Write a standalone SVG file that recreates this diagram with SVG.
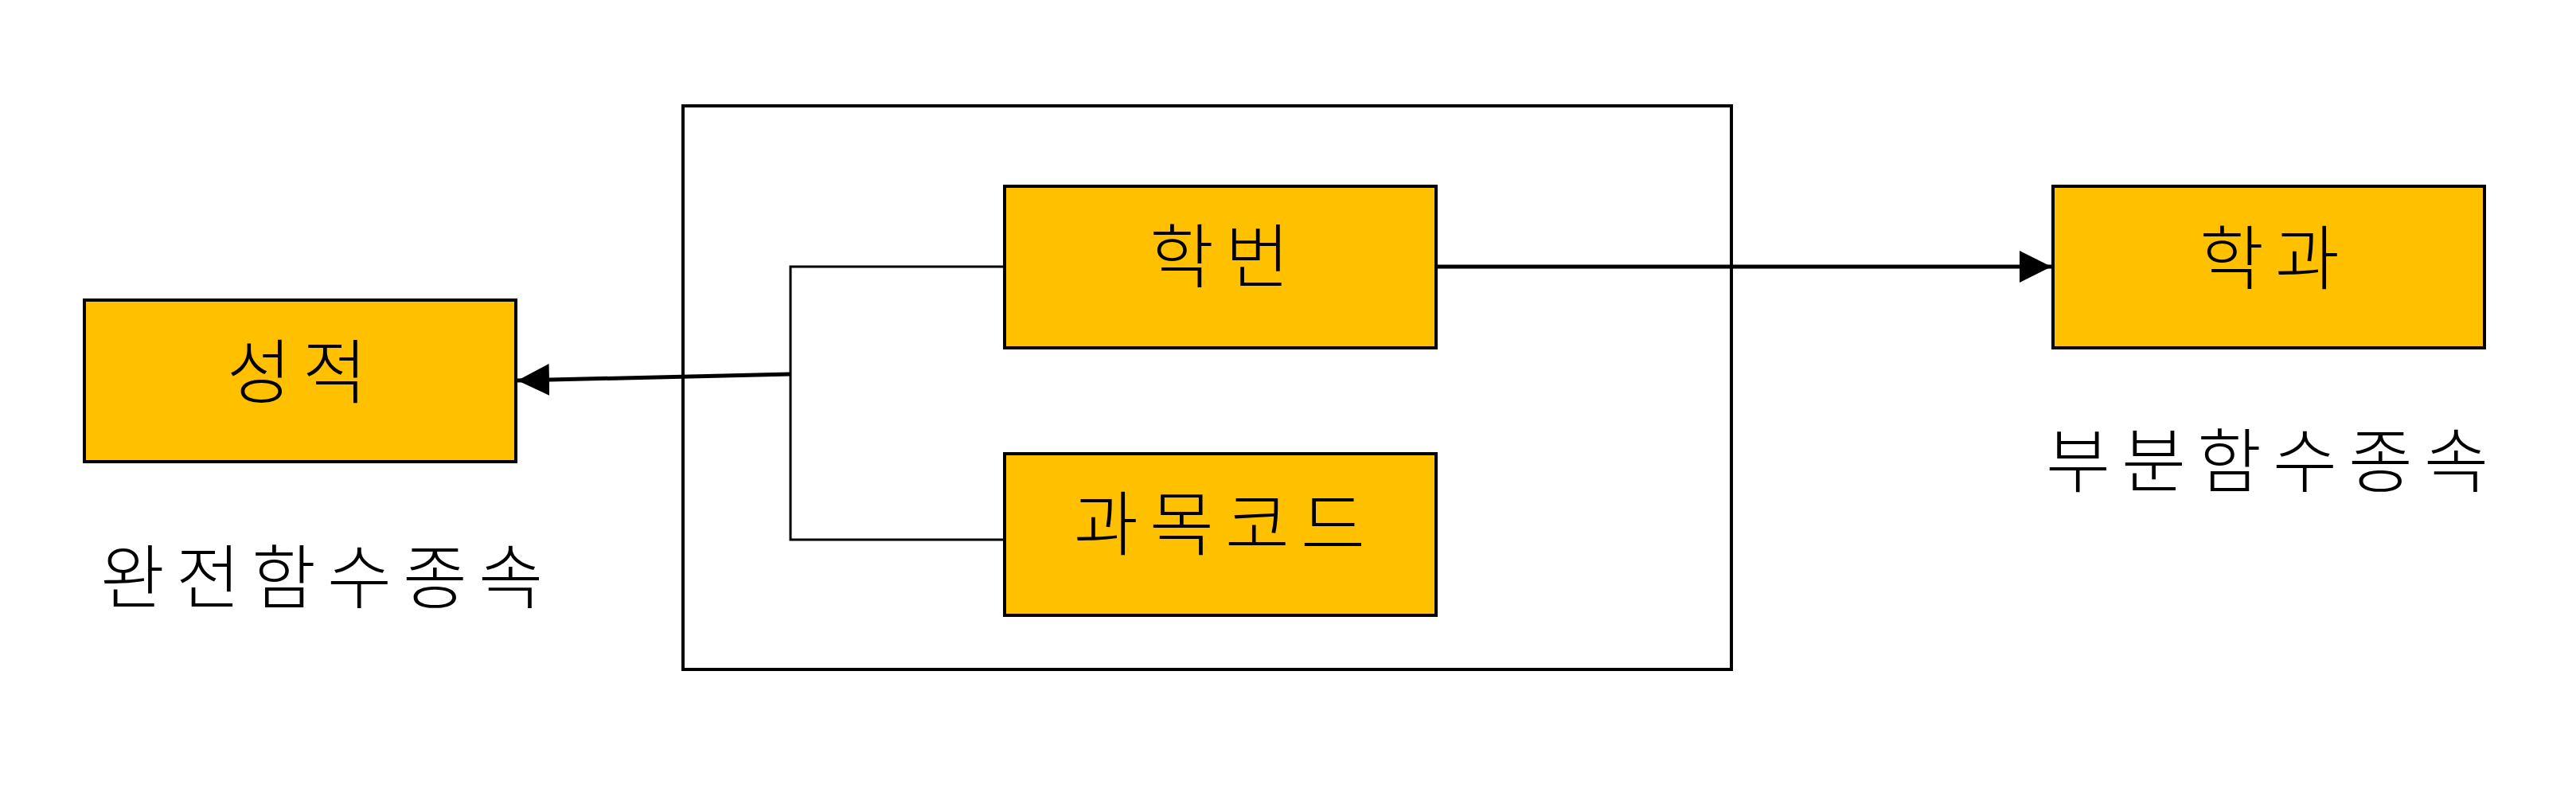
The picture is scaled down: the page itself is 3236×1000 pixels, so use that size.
<svg xmlns="http://www.w3.org/2000/svg" width="3236" height="1000" viewBox="0 0 3236 1000">
<style>
.box{fill:#FFC000;stroke:#000;stroke-width:4}
.frame{fill:none;stroke:#000;stroke-width:4}
.ln{fill:none;stroke:#000;stroke-width:3}
.ar{fill:none;stroke:#000;stroke-width:5}
text{font-family:"Noto Sans CJK KR","Noto Sans",sans-serif;font-size:88px;font-weight:300;letter-spacing:14px;fill:#000;text-anchor:middle}
</style>
<defs>
<marker id="ah" markerUnits="userSpaceOnUse" markerWidth="40" markerHeight="40" viewBox="0 0 36 36" refX="36" refY="18" orient="auto">
<path d="M0,0 L36,18 L0,36 Z" fill="#000"/>
</marker>
</defs>
<rect width="3236" height="1000" fill="#fff"/>
<g id="composite-key">
<rect class="frame" x="858" y="133" width="1317" height="708"/>
</g>
<g id="node-seongjeok">
<rect class="box" x="106" y="377" width="542" height="203"/>
<text x="380" y="499">성적</text>
</g>
<g id="node-hakbeon">
<rect class="box" x="1262" y="234" width="542" height="203"/>
<text x="1539" y="354">학번</text>
</g>
<g id="node-gwamokcode">
<rect class="box" x="1262" y="570" width="542" height="203"/>
<text x="1539" y="690">과목코드</text>
</g>
<g id="node-hakgwa">
<rect class="box" x="2579" y="234" width="542" height="203"/>
<text x="2858" y="356">학과</text>
</g>
<g id="label-full">
<text x="411" y="757">완전함수종속</text>
</g>
<g id="label-partial">
<text x="2855" y="611">부분함수종속</text>
</g>
<g id="connectors">
<path class="ln" d="M1262,335 H993 V678 H1262"/>
<path class="ar" d="M993,470 L650,478" marker-end="url(#ah)"/>
<path class="ar" d="M1804,335 L2577,335" marker-end="url(#ah)"/>
</g>
</svg>
